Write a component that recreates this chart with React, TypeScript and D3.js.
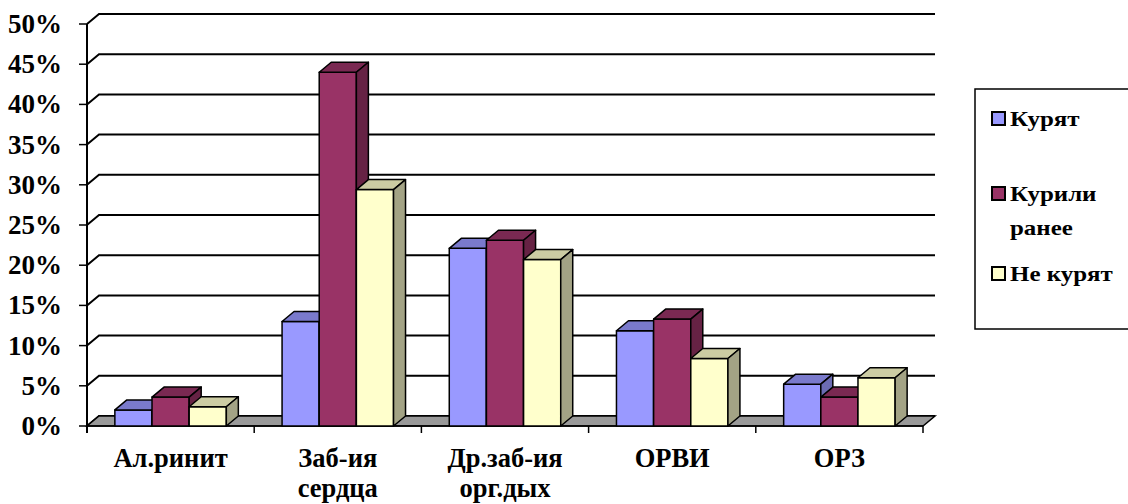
import React from "react";
import * as d3 from "d3";

const categories = ["Ал.ринит", "Заб-ия сердца", "Др.заб-ия орг.дых", "ОРВИ", "ОРЗ"];
const categoryLines = [["Ал.ринит"], ["Заб-ия", "сердца"], ["Др.заб-ия", "орг.дых"], ["ОРВИ"], ["ОРЗ"]];
const seriesNames = ["Курят", "Курили ранее", "Не курят"];
const legendLines = [["Курят"], ["Курили", "ранее"], ["Не курят"]];
const smoke = [0.02, 0.13, 0.221, 0.1185, 0.052];
const smokedBefore = [0.036, 0.44, 0.231, 0.133, 0.036];
const nonSmoke = [0.024, 0.294, 0.207, 0.084, 0.06];
const yTicks = [0, 0.05, 0.1, 0.15, 0.2, 0.25, 0.3, 0.35, 0.4, 0.45, 0.5];

const seriesValues = [smoke, smokedBefore, nonSmoke];
const colors = [
  { front: "#9999FF", top: "#7A7ACC", side: "#6B6BB3" },
  { front: "#993366", top: "#7A2952", side: "#662244" },
  { front: "#FFFFCC", top: "#CCCCA3", side: "#A3A385" },
];

const W = 1128;
const H = 504;
const left = 87;
const right = 923;
const base = 426;
const top = 24;
const DX = 12;
const DY = -10;
const fontStyle = { fontFamily: '"Liberation Serif"', fontWeight: 700 } as const;

export default function App() {
  const y = d3.scaleLinear().domain([0, 0.5]).range([base, top]);
  const x = d3.scaleBand<string>().domain(categories).range([left, right]).padding(0);
  const xs = d3
    .scaleBand<string>()
    .domain(seriesNames)
    .range([0, x.bandwidth()])
    .paddingInner(0)
    .paddingOuter(0.75);
  const bw = xs.bandwidth();
  const pct = d3.format(".0%");

  const legendY = [126, 201, 281];

  return (
    <svg width={W} height={H} style={{ position: "absolute", left: 0, top: 0, background: "#fff" }}>
      {/* gridlines */}
      {yTicks.map((t) => (
        <g key={t}>
          <line x1={left - 8} x2={left} y1={y(t)} y2={y(t)} stroke="#000" strokeWidth={1.5} />
          <polyline
            points={`${left},${y(t)} ${left + DX},${y(t) + DY} ${right + DX},${y(t) + DY}`}
            fill="none"
            stroke="#000"
            strokeWidth={2}
          />
          <text x={62} y={y(t) + 9} textAnchor="end" fontSize={27} style={fontStyle}>
            {pct(t)}
          </text>
        </g>
      ))}
      {/* floor */}
      <polygon
        points={`${left},${base} ${right},${base} ${right + DX},${base + DY} ${left + DX},${base + DY}`}
        fill="#999999"
        stroke="#000"
        strokeWidth={1.5}
      />
      {/* axis */}
      <line x1={left} x2={left} y1={top} y2={base + 7} stroke="#000" strokeWidth={2} />
      <line x1={left} x2={right} y1={base} y2={base} stroke="#000" strokeWidth={1.5} />
      {categories.map((c) => (
        <line
          key={c}
          x1={(x(c) as number) + x.bandwidth()}
          x2={(x(c) as number) + x.bandwidth()}
          y1={base}
          y2={base + 7}
          stroke="#000"
          strokeWidth={1.5}
        />
      ))}
      {/* bars */}
      {categories.map((c, ci) => (
        <g key={c}>
          {seriesNames.map((s, si) => {
            const v = seriesValues[si][ci];
            const x0 = (x(c) as number) + (xs(s) as number);
            const x1 = x0 + bw;
            const yv = y(v);
            const col = colors[si];
            return (
              <g key={s} stroke="#000" strokeWidth={1.5} strokeLinejoin="round">
                <rect x={x0} y={yv} width={bw} height={base - yv} fill={col.front} />
                <polygon
                  points={`${x0},${yv} ${x1},${yv} ${x1 + DX},${yv + DY} ${x0 + DX},${yv + DY}`}
                  fill={col.top}
                />
                <polygon
                  points={`${x1},${yv} ${x1 + DX},${yv + DY} ${x1 + DX},${base + DY} ${x1},${base}`}
                  fill={col.side}
                />
              </g>
            );
          })}
        </g>
      ))}
      {/* category labels */}
      {categories.map((c, ci) => (
        <text
          key={c}
          x={(x(c) as number) + x.bandwidth() / 2}
          y={467}
          textAnchor="middle"
          fontSize={26.5}
          style={fontStyle}
        >
          {categoryLines[ci].map((l, li) => (
            <tspan key={li} x={(x(c) as number) + x.bandwidth() / 2} dy={li === 0 ? 0 : 30}>
              {l}
            </tspan>
          ))}
        </text>
      ))}
      {/* legend */}
      <rect x={975} y={89} width={200} height={240} fill="#fff" stroke="#000" strokeWidth={1.5} />
      {seriesNames.map((s, si) => {
        const ly = legendY[si];
        return (
          <g key={s}>
            <rect
              x={992}
              y={ly - 14}
              width={13}
              height={13}
              fill={colors[si].front}
              stroke="#000"
              strokeWidth={2}
            />
            <text transform={`translate(1010,${ly}) scale(1.16,1)`} fontSize={21.5} style={fontStyle}>
              {legendLines[si].map((l, li) => (
                <tspan key={li} x={0} dy={li === 0 ? 0 : 34}>
                  {l}
                </tspan>
              ))}
            </text>
          </g>
        );
      })}
    </svg>
  );
}
